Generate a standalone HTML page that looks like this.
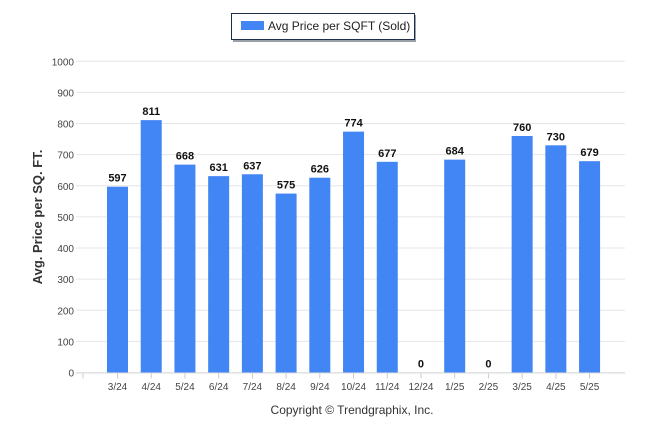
<!DOCTYPE html>
<html><head><meta charset="utf-8"><style>
body{margin:0;background:#fff;width:646px;height:434px;overflow:hidden;font-family:"Liberation Sans",Arial,sans-serif}
</style></head><body>
<svg id="chart" width="646" height="434" xmlns="http://www.w3.org/2000/svg">
<g>
<rect x="233" y="15" width="183" height="27" fill="#9aa0a8"/>
<rect x="231.5" y="13.5" width="183" height="26" fill="#fff" stroke="#1f2d4d"/>
<rect x="241" y="21" width="23" height="9" fill="#4285f4"/>
<text x="268" y="30" font-size="12" fill="#222">Avg Price per SQFT (Sold)</text>
</g>
<g id="grid"></g><g id="bars"></g>
<text transform="translate(42,217) rotate(-90)" text-anchor="middle" font-size="13" font-weight="bold" fill="#333">Avg. Price per SQ. FT.</text>
<text x="352" y="414" text-anchor="middle" font-size="12" fill="#333">Copyright © Trendgraphix, Inc.</text>
</svg>
<script>
const categories=["3/24","4/24","5/24","6/24","7/24","8/24","9/24","10/24","11/24","12/24","1/25","2/25","3/25","4/25","5/25"];
const values=[597,811,668,631,637,575,626,774,677,0,684,0,760,730,679];
const yTicks=[0,100,200,300,400,500,600,700,800,900,1000];
const NS="http://www.w3.org/2000/svg";
const y0=372.5,yTop=61.3,yMax=1000;
function y(v){return y0-(y0-yTop)*v/yMax;}
function x(i){return 117.5+i*33.72;}
const grid=document.getElementById('grid'),bars=document.getElementById('bars');
function mk(tag,attrs,p){const e=document.createElementNS(NS,tag);for(const k in attrs)e.setAttribute(k,attrs[k]);p.appendChild(e);return e;}
yTicks.forEach(t=>{
 const l=mk('line',{x1:76,x2:625,y1:y(t),y2:y(t),stroke:'#e6e6e6','stroke-width':1},grid);
 
 
 const tx=mk('text',{x:74,y:y(t)+4,'text-anchor':'end','font-size':10,fill:'#444'},grid);
 tx.textContent=t;
 
 
});
const ax=mk('line',{x1:76,x2:625,y1:y0+0.5,y2:y0+0.5,stroke:'#ddd'},grid);


[83].concat(categories.map((c,i)=>x(i))).forEach(px=>{
 const tk=mk('line',{x1:px,x2:px,y1:y0+1,y2:y0+6,stroke:'#ccc'},grid);
 
 
});
categories.forEach((c,i)=>{
 const v=values[i];
 const r=mk('rect',{x:x(i)-10.5,y:y(v),width:21,height:y0-y(v),fill:'#4285f4'},bars);
 
 
 const lb=mk('text',{x:x(i),y:y(v)-5,'text-anchor':'middle','font-size':11,'font-weight':'bold',fill:'#111'},bars);
 lb.textContent=v;
 
 
 const xl=mk('text',{x:x(i),y:390,'text-anchor':'middle','font-size':10,fill:'#444'},bars);
 xl.textContent=c;
 
 
});
</script>
</body></html>
